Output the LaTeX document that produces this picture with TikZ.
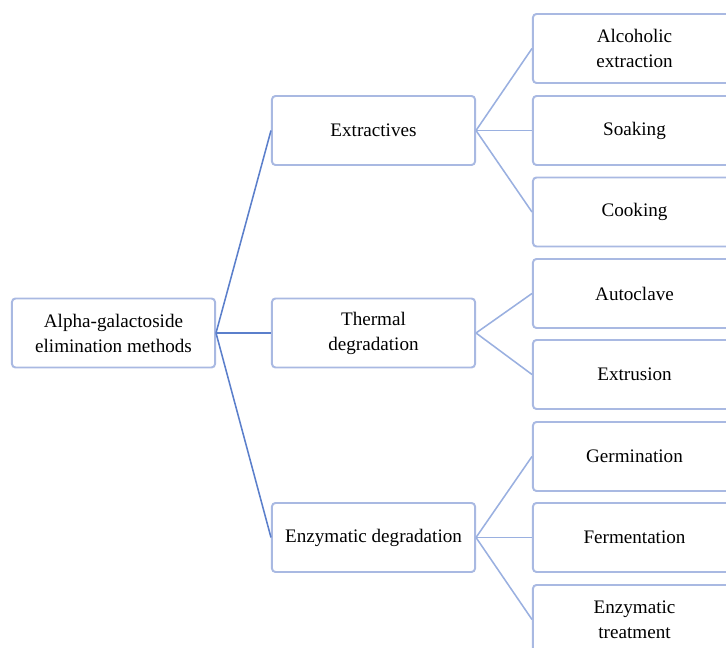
\documentclass[tikz,border=0pt]{standalone}
\usepackage{fontspec}
\setmainfont{Liberation Serif}
\definecolor{boxline}{HTML}{A9B9E2}
\definecolor{rootlink}{HTML}{5B7FCB}
\definecolor{leaflink}{HTML}{9AB0E0}

\tikzset{
	methodbox/.style={draw=boxline, line width=1.4pt, rounded corners=2.5pt, fill=white,
		minimum width=5.075cm, minimum height=1.725cm, align=center,
		font=\fontsize{13.6}{17.8}\selectfont},
	rootline/.style={draw=rootlink, line width=1.1pt},
	leafline/.style={draw=leaflink, line width=1.1pt}
}

\begin{document}
\begin{tikzpicture}[x=0.025cm, y=-0.025cm]
			\useasboundingbox (0,0) rectangle (726,648);
			\clip (0,0) rectangle (726,648);
			
			% root and second level
			\node[methodbox] (root) at (113.5,333) {Alpha-galactoside\\elimination methods};
			\node[methodbox] (extr) at (373.5,130.5) {Extractives};
			\node[methodbox] (therm) at (373.5,333) {Thermal\\degradation};
			\node[methodbox] (enz) at (373.5,537.5) {Enzymatic degradation};
			
			% third level
			\node[methodbox] (alc) at (634.5,48.5) {Alcoholic\\extraction};
			\node[methodbox] (soak) at (634.5,130.5) {Soaking};
			\node[methodbox] (cook) at (634.5,212) {Cooking};
			
			\node[methodbox] (auto) at (634.5,293.5) {Autoclave};
			\node[methodbox] (extru) at (634.5,374.5) {Extrusion};
			
			\node[methodbox] (germ) at (634.5,456.5) {Germination};
			\node[methodbox] (ferm) at (634.5,537.5) {Fermentation};
			\node[methodbox] (enzt) at (634.5,619.5) {Enzymatic\\treatment};
			
			% links
			\foreach \b in {extr, therm, enz}
				\draw[rootline] (root.east) -- (\b.west);
			
			\foreach \b in {alc, soak, cook}
				\draw[leafline] (extr.east) -- (\b.west);
			\foreach \b in {auto, extru}
				\draw[leafline] (therm.east) -- (\b.west);
			\foreach \b in {germ, ferm, enzt}
				\draw[leafline] (enz.east) -- (\b.west);
			
		\end{tikzpicture}
\end{document}
